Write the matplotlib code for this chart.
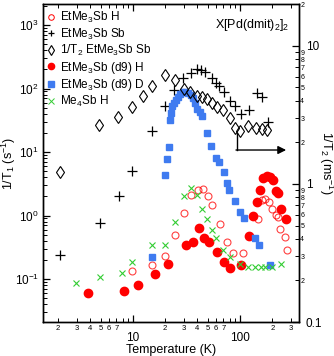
import matplotlib
matplotlib.use("Agg")
import matplotlib.pyplot as plt
from matplotlib.ticker import LogLocator, FuncFormatter, NullFormatter
from matplotlib.lines import Line2D

plt.rcParams["font.family"] = ["Liberation Sans", "DejaVu Sans"]
plt.rcParams["mathtext.fontset"] = "custom"
plt.rcParams["mathtext.rm"] = "Liberation Sans"
plt.rcParams["mathtext.it"] = "Liberation Sans:italic"

# -------------------------
# Datos (T en K)
# -------------------------
# EtMe3Sb H (1/T1, s^-1)
h_T = [9.9, 15.0, 19.8, 24.5, 29.9, 34.6, 40.3, 45.4, 50.2, 54.7, 65.0, 75.1,
       86.1, 106, 146, 162, 173, 187, 201, 215, 224, 236, 261, 275]
h_rate = [0.136, 0.166, 0.233, 0.493, 1.08, 2.10, 2.52, 2.66, 2.03, 1.45, 0.722,
          0.383, 0.257, 0.257, 0.871, 1.75, 1.82, 1.66, 1.27, 1.02, 0.946, 0.613,
          0.458, 0.286]

# EtMe3Sb Sb (1/T1, s^-1)
sb_T = [2.09, 4.89, 7.36, 9.9, 15.0, 19.8, 24.4, 29.6, 34.5, 39.6, 43.4, 47.6,
        54.2, 59.7, 63.2, 70.8, 81.5, 90.7, 102, 121, 143, 162, 183]
sb_rate = [0.236, 0.762, 2.03, 4.99, 21.8, 53.0, 96.5, 146, 177, 203, 196, 184,
           148, 123, 109, 89, 63.6, 54, 39.6, 45.8, 85.9, 74.3, 30]

# 1/T2 EtMe3Sb Sb (ms^-1, eje derecho)
t2_T = [2.08, 4.86, 7.31, 9.85, 12.4, 15.1, 19.8, 24.9, 30.0, 34.2, 39.4, 44.4,
        49.5, 55.1, 61.4, 68.9, 80.7, 89.8, 100.7, 119.7, 139.7, 159.7, 177.8]
t2_rate = [1.22, 2.68, 3.06, 3.61, 4.34, 5.13, 6.21, 5.62, 4.88, 4.6, 4.36, 4.25,
           4.11, 3.85, 3.60, 3.44, 3.01, 2.53, 2.42, 2.61, 2.55, 2.51, 2.46]

# EtMe3Sb (d9) H
d9h_T = [3.82, 8.30, 11.2, 16.1, 21.2, 31.3, 36.1, 41.4, 46.6, 51.6, 61.4, 71.3,
         81.5, 102, 122, 133, 143, 154, 165, 178, 191, 203, 215, 227, 244, 266]
d9h_rate = [0.0595, 0.0654, 0.0805, 0.120, 0.175, 0.343, 0.383, 0.629, 0.435,
            0.383, 0.269, 0.185, 0.147, 0.166, 0.475, 0.982, 1.65, 2.52, 3.90,
            4.19, 3.97, 3.56, 2.39, 2.24, 1.27, 0.871]

# EtMe3Sb (d9) D
d9d_T = [15.0, 19.9, 20.8, 21.8, 22.4, 22.9, 23.4, 24.2, 25.2, 26.5, 27.8, 29.3,
         30.9, 32.7, 34.5, 36.4, 38.0, 40.1, 42.3, 44.1, 49.7, 53.5, 60.1, 64.1,
         70.2, 75.1, 78.9, 90.7, 101, 110, 138, 151, 190]
d9d_rate = [0.224, 4.27, 7.76, 12.1, 31.9, 41.1, 53, 59.1, 67.1, 74.8, 83.4,
            88.1, 89.7, 86.5, 80.5, 70.8, 59.1, 48.4, 42.7, 36.9, 19.7, 12.4,
            8.19, 7.03, 4.90, 3.25, 2.52, 1.69, 1.14, 0.914, 0.443, 0.343, 0.166]

# Me4Sb H
me4_T = [2.93, 4.92, 7.83, 9.85, 15.0, 19.8, 24.5, 30.0, 34.8, 39.4, 44.6, 49.7,
         54.4, 60.1, 69.8, 80.7, 100, 120, 137, 156, 173, 199, 243]
me4_rate = [0.0875, 0.109, 0.126, 0.182, 0.343, 0.343, 0.791, 2.03, 2.71, 2.08,
            1.25, 0.865, 0.585, 0.435, 0.286, 0.218, 0.172, 0.155, 0.152, 0.152,
            0.155, 0.152, 0.175]

RED = "#ff0000"
BLUE = "#3f7bf0"
GREEN = "#33cc33"


def minor_digit(keep):
    """Etiqueta de tick menor: solo el primer dígito"""
    def fmt(v, pos):
        if v <= 0:
            return ""
        s = f"{v:.6e}"
        d = int(s[0])
        return str(d) if d in keep else ""
    return FuncFormatter(fmt)


fig = plt.figure(figsize=(3.34, 3.56), dpi=100)
ax = fig.add_axes([0.129, 0.0955, 0.766, 0.893])
ax2 = ax.twinx()

ax.plot(h_T, h_rate, "o", ms=5, mfc="none", mec=RED, mew=0.8, alpha=0.75)
ax.plot(sb_T, sb_rate, "+", ms=6.5, color="black", mew=0.9)
ax.plot(d9h_T, d9h_rate, "o", ms=6, color=RED, mec=RED)
ax.plot(d9d_T, d9d_rate, "s", ms=5, color=BLUE, mec=BLUE)
ax.plot(me4_T, me4_rate, "x", ms=5, color=GREEN, mew=0.8)
ax2.plot(t2_T, t2_rate, "d", ms=6, mfc="none", mec="black", mew=0.8)

ax.set_xscale("log")
ax.set_yscale("log")
ax2.set_yscale("log")
ax.set_xlim(1.45, 355)
ax.set_ylim(0.021, 2140)
ax2.set_ylim(0.1, 20.1)

# Ejes y ticks
ax.tick_params(which="both", direction="in", top=True, right=False, labelsize=8.5)
ax.tick_params(which="major", length=5, width=0.9)
ax.tick_params(which="minor", length=3, width=0.7)
ax.tick_params(axis="y", which="major", pad=3)
ax2.tick_params(which="both", direction="in")
ax2.tick_params(which="major", length=5, width=0.9, labelsize=8.5, pad=5)
ax2.tick_params(which="minor", length=3, width=0.7, labelsize=5, pad=1)
ax.tick_params(axis="x", which="minor", labelsize=5.5, pad=2)
ax.tick_params(axis="x", which="major", pad=7)

ax.xaxis.set_minor_locator(LogLocator(base=10, subs=range(2, 10)))
ax.xaxis.set_minor_formatter(minor_digit({2, 3, 4, 5, 6, 7}))
ax.xaxis.set_major_formatter(FuncFormatter(lambda v, p: f"{v:g}"))
ax.yaxis.set_major_locator(LogLocator(base=10, numticks=10))
ax.yaxis.set_minor_locator(LogLocator(base=10, subs=range(2, 10), numticks=10))
ax.yaxis.set_minor_formatter(NullFormatter())
ax2.yaxis.set_minor_locator(LogLocator(base=10, subs=range(2, 10)))
ax2.yaxis.set_minor_formatter(minor_digit({2, 3, 4, 5, 6, 7, 8, 9}))
ax2.yaxis.set_major_formatter(FuncFormatter(lambda v, p: f"{v:g}"))

for a in (ax, ax2):
    for s in a.spines.values():
        s.set_linewidth(1.0)

ax.set_xlabel("Temperature (K)", fontsize=9, labelpad=0)
ax.set_ylabel("1/T$_1$ (s$^{-1}$)", fontsize=9)
ax.yaxis.set_label_coords(-0.098, 0.5)
ax2.set_ylabel("1/T$_2$ (ms$^{-1}$)", fontsize=9, rotation=270, labelpad=9)

ax.text(0.67, 0.935, "X[Pd(dmit)$_2$]$_2$", transform=ax.transAxes,
        fontsize=9, ha="left", va="center")

# Flecha que indica el eje derecho
ax.plot([0.757, 0.757], [0.594, 0.541], transform=ax.transAxes,
        color="black", lw=1.0)
ax.annotate("", xy=(0.95, 0.541), xytext=(0.754, 0.541),
            xycoords="axes fraction",
            arrowprops=dict(arrowstyle="-|>", color="black", lw=1.0,
                            mutation_scale=12, shrinkA=0, shrinkB=0))

handles = [
    Line2D([], [], ls="none", marker="o", ms=4, mfc="none", mec=RED, mew=0.7),
    Line2D([], [], ls="none", marker="+", ms=5, color="black", mew=0.9),
    Line2D([], [], ls="none", marker="d", ms=5, mfc="none", mec="black", mew=0.8),
    Line2D([], [], ls="none", marker="o", ms=4.5, color=RED),
    Line2D([], [], ls="none", marker="s", ms=4.5, color=BLUE),
    Line2D([], [], ls="none", marker="x", ms=4, color=GREEN, mew=0.7),
]
labels = ["EtMe$_3$Sb H", "EtMe$_3$Sb Sb", "1/T$_2$ EtMe$_3$Sb Sb",
          "EtMe$_3$Sb (d9) H", "EtMe$_3$Sb (d9) D", "Me$_4$Sb H"]
ax.legend(handles, labels, loc="upper left", frameon=False, fontsize=8.5,
          handlelength=0.6, handletextpad=0.4, labelspacing=0.12,
          borderaxespad=0.1, bbox_to_anchor=(-0.005, 1.0))

fig.savefig("out.png", dpi=100)
